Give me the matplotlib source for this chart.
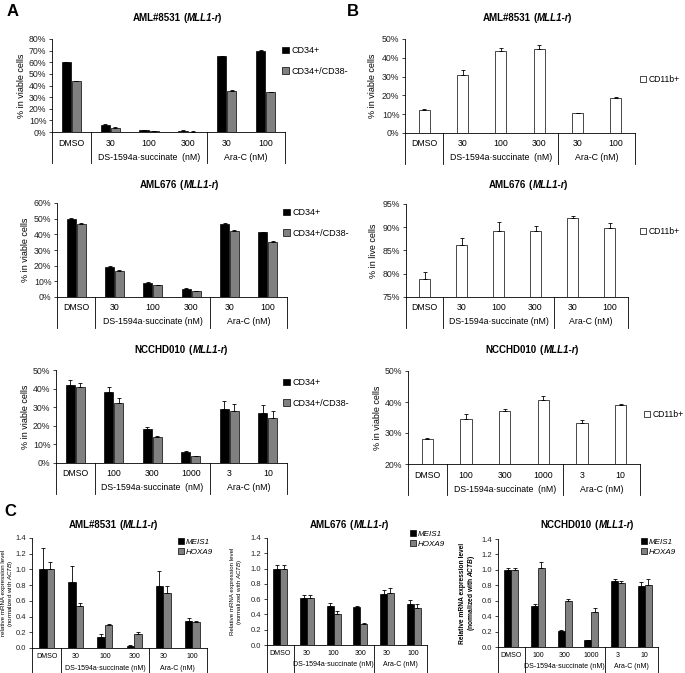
import numpy as np
import matplotlib.pyplot as plt
from matplotlib.ticker import PercentFormatter, FormatStrFormatter
from matplotlib.offsetbox import TextArea, HPacker, AnnotationBbox

plt.rcParams['font.family'] = ['Liberation Sans', 'DejaVu Sans']
plt.rcParams['mathtext.fontset'] = 'custom'
plt.rcParams['mathtext.rm'] = 'Liberation Sans'
plt.rcParams['mathtext.it'] = 'Liberation Sans:italic'
plt.rcParams['mathtext.bf'] = 'Liberation Sans:bold'
plt.rcParams['mathtext.bfit'] = 'Liberation Sans:italic:bold'

# categories
cats_ds = ['DMSO', '30', '100', '300', '30', '100']
cats_nc = ['DMSO', '100', '300', '1000', '3', '10']
group_ds_wide = 'DS-1594a\u00b7succinate  (nM)'
group_ds = 'DS-1594a\u00b7succinate (nM)'
group_ara = 'Ara-C (nM)'

# A: CD34+ and CD34+/CD38- (fraction of viable cells)
a1_cd34 = [0.600, 0.060, 0.015, 0.010, 0.650, 0.700]
a1_cd34_err = [0.004, 0.008, 0.003, 0.003, 0.004, 0.004]
a1_cd38 = [0.435, 0.038, 0.005, 0.004, 0.355, 0.340]
a1_cd38_err = [0.004, 0.005, 0.002, 0.002, 0.007, 0.007]

a2_cd34 = [0.495, 0.190, 0.092, 0.052, 0.468, 0.412]
a2_cd34_err = [0.008, 0.008, 0.006, 0.003, 0.003, 0.003]
a2_cd38 = [0.465, 0.165, 0.075, 0.038, 0.423, 0.353]
a2_cd38_err = [0.005, 0.006, 0.004, 0.003, 0.003, 0.005]

a3_cd34 = [0.420, 0.380, 0.183, 0.058, 0.293, 0.267]
a3_cd34_err = [0.025, 0.028, 0.010, 0.007, 0.040, 0.045]
a3_cd38 = [0.410, 0.322, 0.138, 0.035, 0.278, 0.242]
a3_cd38_err = [0.022, 0.025, 0.008, 0.005, 0.038, 0.038]

# B: CD11b+
b1_cd11b = [0.120, 0.310, 0.435, 0.445, 0.105, 0.187]
b1_cd11b_err = [0.008, 0.027, 0.018, 0.025, 0.004, 0.003]
b2_cd11b = [0.788, 0.862, 0.891, 0.891, 0.919, 0.898]
b2_cd11b_err = [0.015, 0.014, 0.021, 0.011, 0.006, 0.012]
b3_cd11b = [0.281, 0.344, 0.371, 0.406, 0.332, 0.391]
b3_cd11b_err = [0.004, 0.018, 0.005, 0.013, 0.010, 0.003]

# C: relative mRNA expression
c1_meis1 = [1.00, 0.84, 0.14, 0.03, 0.79, 0.34]
c1_meis1_err = [0.27, 0.21, 0.04, 0.01, 0.19, 0.04]
c1_hoxa9 = [1.00, 0.53, 0.29, 0.18, 0.70, 0.33]
c1_hoxa9_err = [0.10, 0.04, 0.02, 0.03, 0.09, 0.02]

c2_meis1 = [1.00, 0.62, 0.51, 0.50, 0.67, 0.54]
c2_meis1_err = [0.05, 0.03, 0.04, 0.01, 0.05, 0.05]
c2_hoxa9 = [1.00, 0.61, 0.41, 0.28, 0.68, 0.49]
c2_hoxa9_err = [0.05, 0.05, 0.03, 0.003, 0.06, 0.04]

c3_meis1 = [1.00, 0.53, 0.21, 0.09, 0.85, 0.79]
c3_meis1_err = [0.03, 0.03, 0.01, 0.003, 0.03, 0.05]
c3_hoxa9 = [1.00, 1.03, 0.60, 0.46, 0.83, 0.81]
c3_hoxa9_err = [0.02, 0.07, 0.02, 0.04, 0.03, 0.07]

W, H = 685, 673
fig = plt.figure(figsize=(W / 100, H / 100), dpi=100)
x = np.arange(6)
GRAY = '#808080'


def title(cx, cy, name, fs=7.0):
    bold = dict(fontsize=fs, fontweight='bold')
    boldit = dict(fontsize=fs, fontweight='bold', style='italic')
    tail = HPacker(children=[TextArea('MLL1-r', textprops=boldit),
                             TextArea(')', textprops=bold)],
                   pad=0, sep=-0.8, align='baseline')
    inner = HPacker(children=[TextArea('(', textprops=bold), tail],
                    pad=0, sep=0.3, align='baseline')
    box = HPacker(children=[TextArea(name, textprops=bold), inner],
                  pad=0, sep=fs * 0.28, align='baseline')
    fig.add_artist(AnnotationBbox(box, (cx / W, 1 - cy / H), xycoords='figure fraction',
                                  frameon=False, box_alignment=(0.5, 0.5), pad=0))


def panel(box, cats, grp, series, errs, colors, ylim, step, pct, ylab, ylab_dx,
          fs=6.3, tab=(11, 25, 31), width=0.24, ylab_fs=6.5, ylab_weight='normal',
          tick_fs=6.3):
    x0, y0, x1, y1 = box
    ax = fig.add_axes([x0 / W, 1 - y1 / H, (x1 - x0) / W, (y1 - y0) / H])
    n = len(series)
    offs = [-0.13, 0.13] if n == 2 else [0]
    bars = []
    for v, e, c, off in zip(series, errs, colors, offs):
        b = ax.bar(x + off, v, width, color=c, edgecolor='black', linewidth=0.5, zorder=2)
        ax.errorbar(x + off, v, yerr=[np.zeros(len(e)), e], fmt='none', ecolor='black',
                    elinewidth=0.6, capsize=1.6, capthick=0.6, zorder=3)
        bars.append(b)
    ax.set_xlim(-0.5, 5.5)
    ax.set_ylim(*ylim)
    ax.set_yticks(np.arange(ylim[0], ylim[1] + step / 2, step))
    if pct:
        ax.yaxis.set_major_formatter(PercentFormatter(1.0, decimals=0))
    else:
        ax.yaxis.set_major_formatter(FormatStrFormatter('%.1f'))
    ax.tick_params(axis='y', labelsize=tick_fs, length=2.5, width=0.6, pad=1.5,
                   colors='#222222')
    ax.set_xticks([])
    for s in ['top', 'right']:
        ax.spines[s].set_visible(False)
    for s in ['left', 'bottom']:
        ax.spines[s].set_linewidth(0.6)
    hpx = y1 - y0
    cat_dy, grp_dy, tab_dy = tab
    trans = ax.get_xaxis_transform()
    for xi in [-0.5, 0.5, 3.5, 5.5]:
        ax.plot([xi, xi], [0, -tab_dy / hpx], transform=trans, color='black', lw=0.6,
                clip_on=False)
    for xi, c in zip(x, cats):
        ax.text(xi, -cat_dy / hpx, c, transform=trans, ha='center', va='center', fontsize=fs)
    ax.text(2, -grp_dy / hpx, grp, transform=trans, ha='center', va='center', fontsize=fs)
    ax.text(4.5, -grp_dy / hpx, group_ara, transform=trans, ha='center', va='center', fontsize=fs)
    ax.text(ylab_dx / (x1 - x0), 0.5, ylab, transform=ax.transAxes, rotation=90,
            ha='center', va='center', fontsize=ylab_fs, fontweight=ylab_weight,
            linespacing=1.1)
    return ax, bars


def legend(ax, bars, labels, lx, ly, fs=6.5, spacing=1.3, italic=False):
    ax.legend(bars, labels, loc='upper left', bbox_to_anchor=(lx / W, 1 - ly / H),
              bbox_transform=fig.transFigure, frameon=False,
              prop=dict(size=fs, style='italic' if italic else 'normal'),
              handlelength=0.75, handleheight=0.75, handletextpad=0.25,
              labelspacing=spacing, borderpad=0, borderaxespad=0)


pct_lab = '% in viable cells'
ab_labels = ['CD34+', 'CD34+/CD38-']
two = ['black', GRAY]

# panel A
ax, bars = panel((52, 39, 285, 132), cats_ds, group_ds_wide, [a1_cd34, a1_cd38],
                 [a1_cd34_err, a1_cd38_err], two, (0, 0.8), 0.1, True, pct_lab, -30)
legend(ax, bars, ab_labels, 282, 46)
title(177, 18, 'AML#8531')

ax, bars = panel((57, 203, 287, 297), cats_ds, group_ds, [a2_cd34, a2_cd38],
                 [a2_cd34_err, a2_cd38_err], two, (0, 0.6), 0.1, True, pct_lab, -32)
legend(ax, bars, ab_labels, 283, 208)
title(179, 185, 'AML676')

ax, bars = panel((56, 370, 287, 463), cats_nc, group_ds_wide, [a3_cd34, a3_cd38],
                 [a3_cd34_err, a3_cd38_err], two, (0, 0.5), 0.1, True, pct_lab, -31)
legend(ax, bars, ab_labels, 283, 378)
title(181, 350, 'NCCHD010')

# panel B
ax, bars = panel((405, 39, 635, 133), cats_ds, group_ds_wide, [b1_cd11b], [b1_cd11b_err],
                 ['white'], (0, 0.5), 0.1, True, pct_lab, -33, width=0.29)
legend(ax, bars, ['CD11b+'], 640, 75, fs=6.2)
title(527, 18, 'AML#8531')

ax, bars = panel((406, 204, 628, 297), cats_ds, group_ds, [b2_cd11b], [b2_cd11b_err],
                 ['white'], (0.75, 0.95), 0.05, True, '% in live cells', -33, width=0.29)
legend(ax, bars, ['CD11b+'], 640, 227, fs=6.2)
title(528, 185, 'AML676')

ax, bars = panel((408, 371, 640, 464), cats_nc, group_ds_wide, [b3_cd11b], [b3_cd11b_err],
                 ['white'], (0.2, 0.5), 0.1, True, pct_lab, -31, width=0.29)
legend(ax, bars, ['CD11b+'], 644, 410, fs=6.2)
title(532, 350, 'NCCHD010')

# panel C
gene_labels = ['MEIS1', 'HOXA9']
ax, bars = panel((32, 538, 207, 648), cats_ds, group_ds, [c1_meis1, c1_hoxa9],
                 [c1_meis1_err, c1_hoxa9_err], two, (0, 1.4), 0.2, False,
                 'relative mRNA expression level\n(normalized with $\\mathit{ACTB}$)', -24,
                 fs=5.0, tab=(8.5, 20, 27), width=0.26, ylab_fs=4.5, tick_fs=5.5)
legend(ax, bars, gene_labels, 178, 538, fs=5.8, spacing=0.25, italic=True)
title(113, 525, 'AML#8531')

ax, bars = panel((267, 538, 427, 645), cats_ds, group_ds, [c2_meis1, c2_hoxa9],
                 [c2_meis1_err, c2_hoxa9_err], two, (0, 1.4), 0.2, False,
                 'Relative mRNA expression level\n(normalized with $\\mathit{ACTB}$)', -30,
                 fs=5.0, tab=(8.5, 20, 28), width=0.26, ylab_fs=4.4, tick_fs=5.5)
legend(ax, bars, gene_labels, 410, 530, fs=5.8, spacing=0.25, italic=True)
title(349, 525, 'AML676')

ax, bars = panel((498, 539, 658, 647), cats_nc, group_ds, [c3_meis1, c3_hoxa9],
                 [c3_meis1_err, c3_hoxa9_err], two, (0, 1.4), 0.2, False,
                 'Relative mRNA expression level\n(normalized with $\\mathbfit{ACTB}$)', -30,
                 fs=5.0, tab=(8.5, 20, 27), width=0.26, ylab_fs=4.8, ylab_weight='bold',
                 tick_fs=5.5)
legend(ax, bars, gene_labels, 641, 538, fs=5.8, spacing=0.25, italic=True)
title(587, 525, 'NCCHD010')

# panel letters
for letter, lx, ly in [('A', 13, 11), ('B', 353, 11), ('C', 10, 512)]:
    fig.text(lx / W, 1 - ly / H, letter, fontsize=12, fontweight='bold', ha='center', va='center')

fig.savefig('out.png', dpi=100)
